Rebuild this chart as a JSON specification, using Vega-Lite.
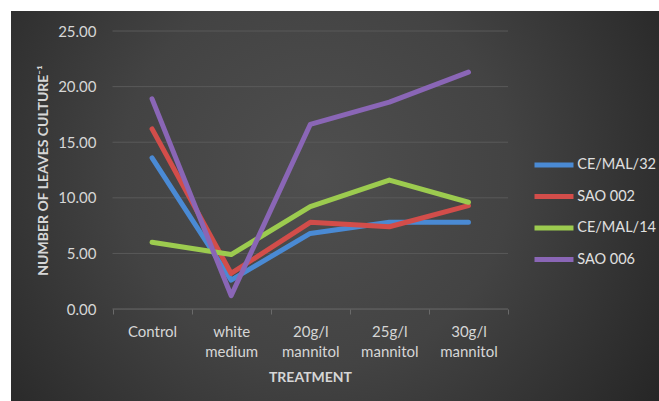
{
  "$schema": "https://vega.github.io/schema/vega-lite/v6.json",
  "width": 648,
  "height": 390,
  "autosize": {"type": "none"},
  "padding": {"left": 11, "top": 11, "right": 0, "bottom": 0},
  "background": "#ffffff",
  "view": {
    "stroke": null,
    "fill": {
      "gradient": "radial",
      "x1": 0.47, "y1": 0.45, "r1": 0,
      "x2": 0.47, "y2": 0.45, "r2": 0.75,
      "stops": [
        {"offset": 0, "color": "#4f4f4f"},
        {"offset": 0.4, "color": "#434343"},
        {"offset": 1, "color": "#1c1c1c"}
      ]
    }
  },
  "config": {
    "font": "Lato",
    "axis": {"labelFont": "Lato", "titleFont": "Lato"},
    "legend": {"labelFont": "Lato"}
  },
  "datasets": {
    "grid": [
      {"v": 0}, {"v": 5}, {"v": 10}, {"v": 15}, {"v": 20}, {"v": 25}
    ],
    "leaves": [
      {"treatment": "Control", "series": "CE/MAL/32", "leaves": 13.6},
      {"treatment": "white medium", "series": "CE/MAL/32", "leaves": 2.6},
      {"treatment": "20g/l mannitol", "series": "CE/MAL/32", "leaves": 6.8},
      {"treatment": "25g/l mannitol", "series": "CE/MAL/32", "leaves": 7.8},
      {"treatment": "30g/l mannitol", "series": "CE/MAL/32", "leaves": 7.8},
      {"treatment": "Control", "series": "SAO 002", "leaves": 16.2},
      {"treatment": "white medium", "series": "SAO 002", "leaves": 3.2},
      {"treatment": "20g/l mannitol", "series": "SAO 002", "leaves": 7.8},
      {"treatment": "25g/l mannitol", "series": "SAO 002", "leaves": 7.4},
      {"treatment": "30g/l mannitol", "series": "SAO 002", "leaves": 9.3},
      {"treatment": "Control", "series": "CE/MAL/14", "leaves": 6.0},
      {"treatment": "white medium", "series": "CE/MAL/14", "leaves": 4.9},
      {"treatment": "20g/l mannitol", "series": "CE/MAL/14", "leaves": 9.2},
      {"treatment": "25g/l mannitol", "series": "CE/MAL/14", "leaves": 11.6},
      {"treatment": "30g/l mannitol", "series": "CE/MAL/14", "leaves": 9.6},
      {"treatment": "Control", "series": "SAO 006", "leaves": 18.9},
      {"treatment": "white medium", "series": "SAO 006", "leaves": 1.2},
      {"treatment": "20g/l mannitol", "series": "SAO 006", "leaves": 16.6},
      {"treatment": "25g/l mannitol", "series": "SAO 006", "leaves": 18.6},
      {"treatment": "30g/l mannitol", "series": "SAO 006", "leaves": 21.3}
    ]
  },
  "resolve": {"scale": {"x": "shared", "y": "shared"}},
  "layer": [
    {
      "data": {"name": "grid"},
      "mark": {"type": "rule", "strokeWidth": 1},
      "encoding": {
        "x": {
          "datum": "Control",
          "type": "nominal",
          "bandPosition": 0,
          "scale": {
            "type": "band",
            "domain": ["Control", "white medium", "20g/l mannitol", "25g/l mannitol", "30g/l mannitol"],
            "range": [101.5, 497],
            "paddingInner": 0,
            "paddingOuter": 0
          },
          "axis": {
            "orient": "bottom",
            "offset": -92,
            "domain": false,
            "grid": false,
            "ticks": true,
            "tickBand": "extent",
            "tickSize": 5,
            "tickColor": "#6a6a6a",
            "tickWidth": 1,
            "labelAngle": 0,
            "labelExpr": "split(datum.label, ' ')",
            "labelFontSize": 15,
            "labelColor": "#d6d6d6",
            "labelPadding": 10,
            "labelLineHeight": 20,
            "labelBaseline": "top",
            "title": "TREATMENT",
            "titleFontSize": 14,
            "titleFontWeight": "bold",
            "titleColor": "#d6d6d6",
            "titleX": 299,
            "titleY": 68,
            "titleBaseline": "middle",
            "titleAnchor": null
          }
        },
        "x2": {"datum": "30g/l mannitol", "bandPosition": 1},
        "y": {
          "field": "v",
          "type": "quantitative",
          "scale": {"domain": [-8.27, 26.8], "nice": false, "zero": false},
          "axis": {
            "orient": "left",
            "offset": -87,
            "values": [0, 5, 10, 15, 20, 25],
            "format": ".2f",
            "domain": false,
            "ticks": false,
            "tickSize": 0,
            "grid": false,
            "labelFontSize": 15,
            "labelColor": "#d6d6d6",
            "labelPadding": 2,
            "title": "NUMBER OF LEAVES CULTURE⁻¹",
            "titleFontSize": 14,
            "titleFontWeight": "bold",
            "titleColor": "#d6d6d6",
            "titleAngle": -90,
            "titleX": -55,
            "titleY": 159,
            "titleAlign": "center",
            "titleBaseline": "middle",
            "titleAnchor": null
          }
        },
        "color": {
          "condition": {"test": "datum.v == 0", "value": "#6a6a6a"},
          "value": "#595959"
        }
      }
    },
    {
      "data": {"name": "leaves"},
      "mark": {"type": "line", "strokeWidth": 5, "strokeCap": "round", "strokeJoin": "round"},
      "encoding": {
        "x": {"field": "treatment", "type": "nominal", "bandPosition": 0.5},
        "y": {"field": "leaves", "type": "quantitative"},
        "color": {
          "field": "series",
          "type": "nominal",
          "scale": {
            "domain": ["CE/MAL/32", "SAO 002", "CE/MAL/14", "SAO 006"],
            "range": ["#4a8ad4", "#d24d4a", "#9ccb4f", "#8a66b6"]
          },
          "legend": {
            "title": null,
            "orient": "none",
            "legendX": 530.5,
            "legendY": 141.5,
            "padding": 0,
            "symbolType": "M-2,0H2",
            "symbolSize": 380,
            "symbolStrokeWidth": 5,
            "labelFontSize": 14.5,
            "labelColor": "#e0e0e0",
            "labelOffset": 10.75,
            "rowPadding": 8.5
          }
        }
      }
    }
  ]
}
